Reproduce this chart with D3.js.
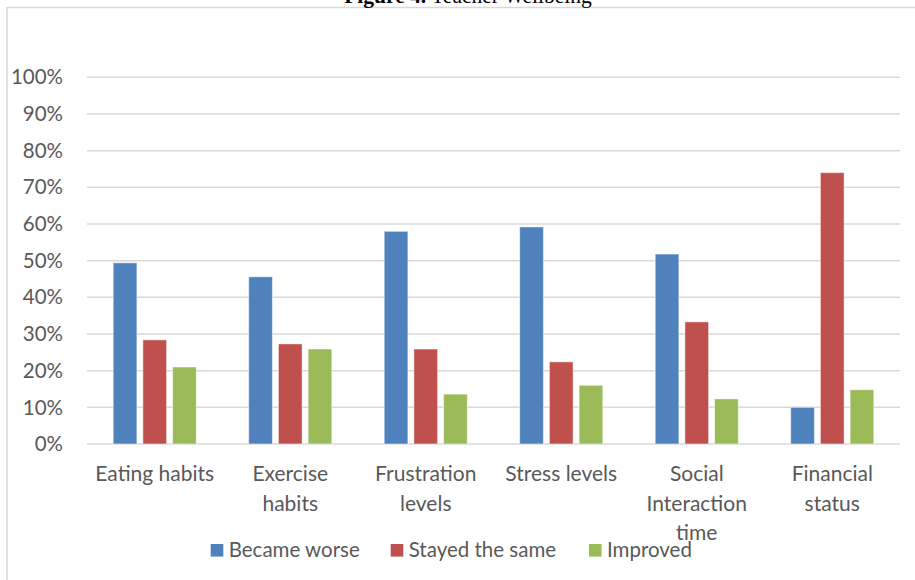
<!DOCTYPE html>
<html>
<head>
<meta charset="utf-8">
<script src="https://cdn.jsdelivr.net/npm/d3@7"></script>
<style>
  html, body { margin: 0; padding: 0; background: #fff; }
  svg { display: block; }
</style>
</head>
<body>
<svg id="chart" width="915" height="580"></svg>
<script>
const categories = ["Eating habits", "Exercise habits", "Frustration levels", "Stress levels", "Social Interaction time", "Financial status"];
const seriesNames = ["Became worse", "Stayed the same", "Improved"];
const becameWorse = [49.4, 45.6, 58.0, 59.2, 51.8, 10.0];
const stayedSame = [28.4, 27.3, 25.9, 22.4, 33.3, 74.0];
const improved = [21.0, 25.9, 13.6, 16.0, 12.3, 14.8];
const yTicks = [0, 10, 20, 30, 40, 50, 60, 70, 80, 90, 100];
const colors = ["#4F81BD", "#C0504D", "#9BBB59"];

const series = [becameWorse, stayedSame, improved];
const data = categories.map((c, i) => ({ cat: c, values: series.map((s, j) => ({ key: seriesNames[j], value: s[i] })) }));

const svg = d3.select("#chart");
const font = "Lato, 'Open Sans', sans-serif";
const fs = 21;

// frame
svg.append("line").attr("x1", 7).attr("x2", 915).attr("y1", 7.5).attr("y2", 7.5)
  .attr("stroke", "#d9d9d9").attr("stroke-width", 1.5);
svg.append("line").attr("x1", 7).attr("x2", 7).attr("y1", 7).attr("y2", 580)
  .attr("stroke", "#d9d9d9").attr("stroke-width", 1.5);

// title (cut off at top)
const title = svg.append("text").attr("x", 468).attr("y", 3).attr("text-anchor", "middle")
  .attr("font-family", "'Liberation Serif', 'Times New Roman', serif").attr("font-size", 21.5).attr("fill", "#000");
title.append("tspan").attr("font-weight", "bold").text("Figure 4.");
title.append("tspan").text(" Teacher Wellbeing");

const x0 = 87, x1 = 900, yTop = 77.3, yBot = 444;
const x = d3.scaleBand().domain(categories).range([x0, x1]).paddingInner(0).paddingOuter(0);
const y = d3.scaleLinear().domain([0, 100]).range([yBot, yTop]);
const barW = 23.7, gap = 6;
const xs = d3.scaleBand().domain(seriesNames)
  .range([0, 3 * barW + 2 * gap]).paddingInner(gap / (barW + gap)).paddingOuter(0);

// gridlines
svg.append("g").selectAll("line").data(yTicks).join("line")
  .attr("x1", x0).attr("x2", x1)
  .attr("y1", d => y(d)).attr("y2", d => y(d))
  .attr("stroke", "#d9d9d9").attr("stroke-width", 1.5);

// y labels
svg.append("g").selectAll("text").data(yTicks).join("text")
  .attr("x", 63).attr("y", d => y(d)).attr("dy", "0.35em")
  .attr("text-anchor", "end")
  .attr("font-family", font).attr("font-size", fs - 0.5).attr("fill", "#595959")
  .text(d => d + "%");

// bars
const groupW = 3 * barW + 2 * gap;
const g = svg.append("g").selectAll("g").data(data).join("g")
  .attr("transform", d => `translate(${x(d.cat) + (x.bandwidth() - groupW) / 2},0)`);
g.selectAll("rect").data(d => d.values).join("rect")
  .attr("x", d => xs(d.key))
  .attr("width", xs.bandwidth())
  .attr("y", d => y(d.value))
  .attr("height", d => yBot - y(d.value))
  .attr("fill", (d, i) => colors[i])
  .attr("stroke", "#ffffff").attr("stroke-opacity", 0.5).attr("stroke-width", 1);

// x labels with wrap
const xl = svg.append("g").selectAll("text").data(categories).join("text")
  .attr("x", d => x(d) + x.bandwidth() / 2)
  .attr("y", 481)
  .attr("text-anchor", "middle")
  .attr("font-family", font).attr("font-size", fs).attr("fill", "#595959");
xl.each(function(d) {
  const t = d3.select(this);
  const words = d.split(" ");
  const maxW = 123;
  let lines = [], cur = [];
  const measure = t.append("tspan");
  words.forEach(w => {
    const test = cur.concat([w]).join(" ");
    measure.text(test);
    if (measure.node().getComputedTextLength() > maxW && cur.length) {
      lines.push(cur.join(" "));
      cur = [w];
    } else cur.push(w);
  });
  lines.push(cur.join(" "));
  measure.remove();
  lines.forEach((l, i) => {
    t.append("tspan").attr("x", x(d) + x.bandwidth() / 2).attr("y", 481 + i * 29.5).text(l);
  });
});

// legend
const legendX = [210.7, 390.7, 589];
const lg = svg.append("g").selectAll("g").data(seriesNames).join("g")
  .attr("transform", (d, i) => `translate(${legendX[i]},544)`);
lg.append("rect").attr("width", 12.6).attr("height", 12.6).attr("fill", (d, i) => colors[i]);
lg.append("text").attr("x", 18).attr("y", 6.3).attr("dy", "0.35em")
  .attr("font-family", font).attr("font-size", fs - 0.5).attr("fill", "#595959")
  .text(d => d);
</script>
</body>
</html>
